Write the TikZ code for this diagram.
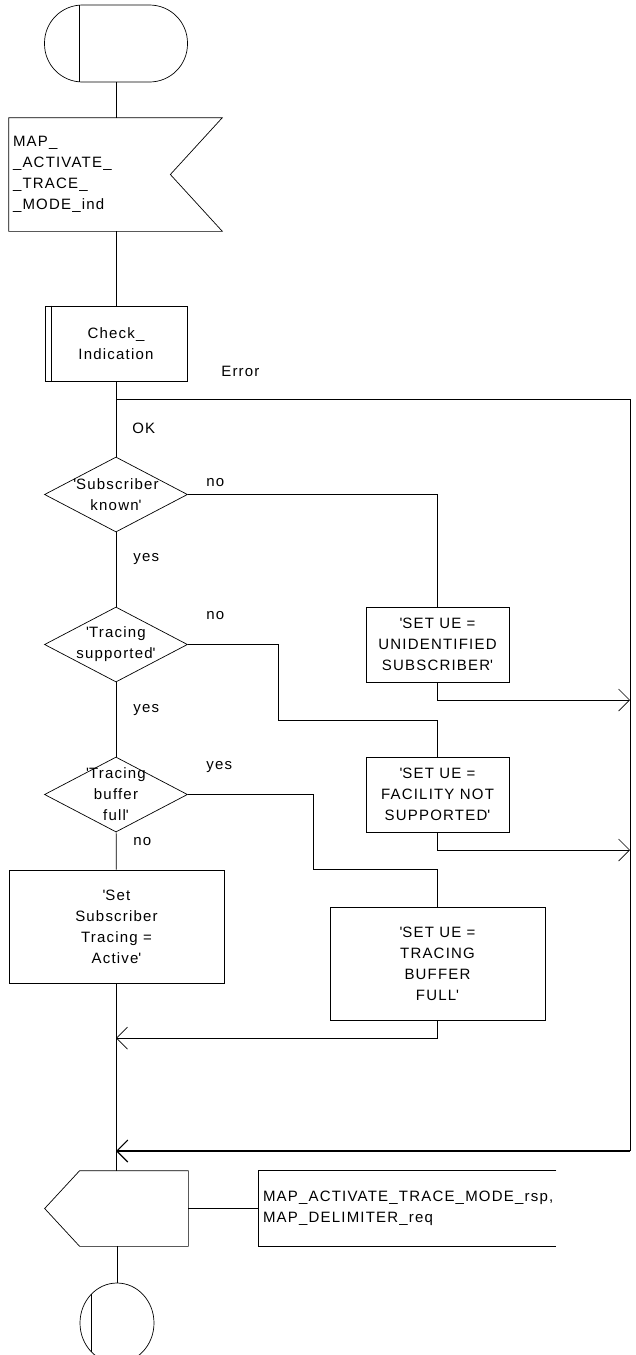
\documentclass[tikz,border=0pt]{standalone}
\usepackage{fontspec}
\setmainfont{Liberation Sans}[LetterSpace=8]
\usetikzlibrary{positioning, arrows.meta, shapes.geometric, calc}
\newcommand{\sq}{\textquotesingle}

\tikzset{
  blk/.style={draw, rectangle, minimum width=143pt, minimum height=75pt, inner sep=2pt, align=center},
  bigblk/.style={blk, minimum width=215pt, minimum height=113pt},
  dec/.style={draw, diamond, minimum width=143pt, minimum height=75pt, inner sep=0pt},
  flow/.style={-{Straight Barb[length=11pt,width=22pt]}},
  lbl/.style={anchor=west, inner sep=0pt},
}

\begin{document}
\begin{tikzpicture}[x=1pt, y=-1pt, line width=0.7pt, font=\fontsize{15}{21}\selectfont]
  \useasboundingbox (0,0) rectangle (635,1355);

  % start and input signal
  \node[draw, rectangle, rounded corners=38pt, minimum width=143pt, minimum height=77pt] (start) at (116,43.5) {};
  \draw ([xshift=35pt]start.north west) -- ([xshift=35pt]start.south west);
  \node[text width=205pt, align=left, inner sep=4pt, minimum height=113pt] (ind) at (115.5,174.5)
    {MAP\_\\\_ACTIVATE\_\\\_TRACE\_\\\_MODE\_ind};
  \draw (ind.north west) -- (ind.north east) -- ([xshift=-52pt]ind.east) -- (ind.south east) -- (ind.south west) -- cycle;

  \node[blk, minimum width=142pt] (chk) at (116,343.5) {Check\_\\Indication};
  \draw ([xshift=7pt]chk.north west) -- ([xshift=7pt]chk.south west);

  % decisions
  \node[dec, label={[align=center]center:{\sq Subscriber\\known\sq}}] (known) at (116,494.5) {};
  \node[dec, label={[align=center]center:{\sq Tracing\\supported\sq}}] (trsup) at (116,644.5) {};
  \node[dec, label={[align=center]center:{\sq Tracing\\buffer\\full\sq}}] (full) at (116,794.5) {};

  \node[blk] (ue1) at (437.5,644.5) {\sq SET UE =\\UNIDENTIFIED\\SUBSCRIBER\sq};
  \node[blk] (ue2) at (437.5,794.5) {\sq SET UE =\\FACILITY NOT\\SUPPORTED\sq};
  \node[bigblk] (act) at (116.5,926.5) {\sq Set\\Subscriber\\Tracing =\\Active\sq};
  \node[bigblk] (ue3) at (437.5,963.5) {\sq SET UE =\\TRACING\\BUFFER\\FULL\sq};

  % output, comment and stop
  \node[minimum width=143pt, minimum height=75pt] (out) at (116.5,1208.5) {};
  \draw ([xshift=35pt]out.north west) -- (out.north east) -- (out.south east) -- ([xshift=35pt]out.south west) -- (out.west) -- cycle;
  \node[text width=289pt, align=left, inner sep=4pt, minimum height=75pt] (cmt) at (407.5,1208.5)
    {MAP\_ACTIVATE\_TRACE\_MODE\_rsp,\\MAP\_DELIMITER\_req};
  \draw (cmt.north east) -- (cmt.north west) -- (cmt.south west) -- (cmt.south east);
  \node[draw, ellipse, minimum width=74pt, minimum height=80pt, inner sep=0pt] (stop) at (117,1323) {};
  \draw ($(stop.center)+(-25.5,-29)$) -- ($(stop.center)+(-25.5,29)$);

  \coordinate (efork) at (116,399);
  \coordinate (eTop) at (630,399);
  \coordinate (eBot) at (630,1151);
  \coordinate (jin) at (116,1151);
  \coordinate (jfull) at (116,1038);
  \coordinate (k2) at (278,720);
  \coordinate (k3) at (313,869);
  \coordinate (b1) at (630,700);
  \coordinate (b2) at (630,850);

  % main line
  \draw (start.south) -- (start.south |- ind.north);
  \draw (ind.south -| chk.north) -- (chk.north);
  \draw (chk) -- (known);
  \draw (known) -- (trsup);
  \draw (trsup) -- (full);
  \draw (full) -- (act);
  \draw (act.south) -- (act.south |- out.north);
  \draw (out) -- (cmt);
  \draw (out.south -| stop.north) -- (stop.north);

  % branches
  \draw (efork) -- (eTop) -- (eBot);
  \draw[flow, line width=1.1pt] (eBot) -- (jin);
  \draw (known.east) -| (ue1.north);
  \draw[flow] (ue1.south) |- (b1);
  \draw (trsup.east) -| (k2) -| (ue2.north);
  \draw[flow] (ue2.south) |- (b2);
  \draw (full.east) -| (k3) -| (ue3.north);
  \draw[flow] (ue3.south) |- (jfull);

  % labels
  \node[lbl] (lerr) at (221,371) {Error};
  \node[lbl] (lok) at (132,428) {OK};
  \node[lbl] (lno1) at (206,483) {no};
  \node[lbl] (lyes1) at (133,559) {yes};
  \node[lbl] (lno2) at (206,616) {no};
  \node[lbl] (lyes2) at (133,710) {yes};
  \node[lbl] (lyes3) at (206,767) {yes};
  \node[lbl] (lno3) at (133,842) {no};
\end{tikzpicture}
\end{document}
